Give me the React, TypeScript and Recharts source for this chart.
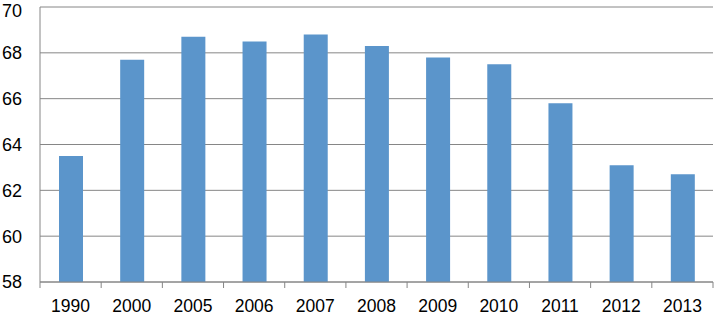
import React from "react";
import { BarChart, Bar, XAxis, YAxis, CartesianGrid } from "recharts";

const years = ["1990", "2000", "2005", "2006", "2007", "2008", "2009", "2010", "2011", "2012", "2013"];
const values = [63.5, 67.7, 68.7, 68.5, 68.8, 68.3, 67.8, 67.5, 65.8, 63.1, 62.7];
const yTicks = [58, 60, 62, 64, 66, 68, 70];

const data = years.map((y, i) => ({ year: y, value: values[i] }));

const W = 714;
const H = 316;
const LEFT = 40;
const RIGHT = 1;
const TOP = 7;
const BOTTOM = 34;
const STEP = (W - LEFT - RIGHT) / years.length;
const GRAY = "#868686";
const FONT = "'Liberation Sans', Arial, sans-serif";

const XTick = (props: any) => {
  const { x, y, payload, index } = props;
  const last = index === years.length - 1;
  return (
    <g>
      <line x1={x - STEP / 2} x2={x - STEP / 2} y1={y} y2={y + 6} stroke={GRAY} strokeWidth={1} />
      {last && <line x1={x + STEP / 2} x2={x + STEP / 2} y1={y} y2={y + 6} stroke={GRAY} strokeWidth={1} />}
      <text x={x} y={y + 30} textAnchor="middle" fontSize={17.5} fill="#000" fontFamily={FONT}>
        {payload.value}
      </text>
    </g>
  );
};

export default function App() {
  return (
    <div style={{ position: "absolute", left: 0, top: 0, width: W, height: H, background: "#fff" }}>
      <BarChart width={W} height={H} data={data} margin={{ top: TOP, right: RIGHT, bottom: 0, left: 0 }} barCategoryGap={0}>
        <CartesianGrid vertical={false} stroke={GRAY} strokeWidth={1} />
        <XAxis
          dataKey="year"
          height={BOTTOM}
          tickLine={false}
          tickSize={0}
          tickMargin={0}
          axisLine={{ stroke: GRAY }}
          tick={<XTick />}
          interval={0}
        />
        <YAxis
          width={LEFT}
          domain={[58, 70]}
          ticks={yTicks}
          allowDataOverflow
          tickLine={false}
          tickSize={0}
          tickMargin={18}
          axisLine={{ stroke: GRAY }}
          tick={{ fontSize: 18, fill: "#000", fontFamily: FONT }}
        />
        <Bar dataKey="value" fill="#5B95CB" barSize={24} isAnimationActive={false} />
      </BarChart>
    </div>
  );
}
